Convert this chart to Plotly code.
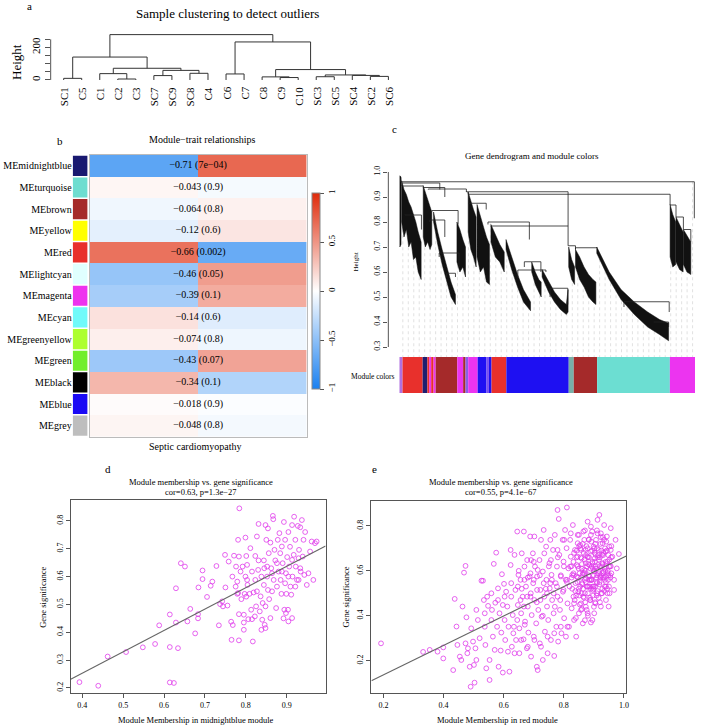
import numpy as np
import plotly.graph_objects as go

W, H = 702, 726
SERIF = "Liberation Serif"


def fx(px):
    return px / W


def fy(py):
    return 1 - py / H


# ---------------- a: sample clustering ----------------
sample_labels = ["SC1", "C5", "C1", "C2", "C3", "SC7", "SC9", "SC8", "C4", "C6",
                 "C7", "C8", "C9", "C10", "SC3", "SC5", "SC4", "SC2", "SC6"]
# (left, right, height): negative = leaf -(i+1), non-negative = earlier merge
sample_merges = [
    (-4, -5, 6), (-1, -2, 10), (-13, -14, 15), (-12, 2, 19), (-15, -16, 20),
    (-18, -19, 22), (-17, 5, 28), (4, 6, 31), (-6, -7, 27), (-10, -11, 37),
    (-3, 0, 39), (-8, -9, 41), (8, 11, 59), (3, 7, 64), (10, 12, 72),
    (1, 14, 141), (9, 13, 234), (15, 16, 279),
]
sample_ticks = [0, 50, 100, 150, 200, 250]
sample_ticktext = ["0", "", "", "", "200", ""]

# ---------------- b: module-trait relationships ----------------
modules = ["MEmidnightblue", "MEturquoise", "MEbrown", "MEyellow", "MEred",
           "MElightcyan", "MEmagenta", "MEcyan", "MEgreenyellow", "MEgreen",
           "MEblack", "MEblue", "MEgrey"]
module_colors = ["#191970", "#6EDDD0", "#A52A2A", "#FFFF00", "#E8302C", "#E0FFFF",
                 "#EE32EE", "#70FAFA", "#ADFF2F", "#72EE2C", "#000000", "#1A0AF5",
                 "#BEBEBE"]
cor_left = [-0.71, 0.043, -0.064, -0.12, 0.66, -0.46, -0.39, 0.14, 0.074, -0.43,
            0.34, 0.018, 0.048]
cor_right = [0.71, -0.043, 0.064, 0.12, -0.66, 0.46, 0.39, -0.14, -0.074, 0.43,
             -0.34, -0.018, -0.048]
cor_text = ["−0.71 (7e−04)", "−0.043 (0.9)", "−0.064 (0.8)", "−0.12 (0.6)",
            "−0.66 (0.002)", "−0.46 (0.05)", "−0.39 (0.1)", "−0.14 (0.6)",
            "−0.074 (0.8)", "−0.43 (0.07)", "−0.34 (0.1)", "−0.018 (0.9)",
            "−0.048 (0.8)"]

# ---------------- c: gene dendrogram ----------------
RED, MID, BROWN, MAG, BLUE, TURQ = "#E8302C", "#1E1E70", "#A52A2A", "#EC34F0", "#1E10F2", "#6CDED2"
# dense leaf fans: x positions (% of genes) with upper / lower heights
gd_fan_x = [
    [0.2, 0.6],
    [0.8, 1.6, 2.4, 3.2, 4.0, 4.8, 5.6, 6.4, 7.4],
    [8.1, 8.8, 9.6, 10.4, 11.0],
    [11.6, 13.0, 14.5, 16.0, 17.5, 19.0],
    [19.5, 20.5, 21.5, 22.4],
    [23.3, 24.2, 25.1, 26.0],
    [26.3, 27.4, 28.5, 29.5, 30.5],
    [31.0, 32.5, 34.0, 35.5],
    [36.1, 38.0, 40.0, 42.0, 44.4],
    [44.8, 46.0, 47.2, 48.0],
    [48.3, 50.5, 52.5, 54.5, 56.5, 57.1],
    [57.3, 58.3, 59.3],
    [59.6, 61.0, 62.5, 64.0, 65.5, 66.5],
    [66.8, 71.0, 75.0, 79.5, 84.0, 88.0, 91.1],
    [91.6, 92.5, 93.5], [93.6, 94.8, 96.0], [96.1, 97.3, 98.6],
]
gd_fan_top = [
    [0.985, 0.98],
    [0.965, 0.93, 0.91, 0.88, 0.86, 0.83, 0.80, 0.76, 0.72],
    [0.945, 0.92, 0.89, 0.86, 0.84],
    [0.84, 0.76, 0.69, 0.62, 0.56, 0.51],
    [0.80, 0.77, 0.73, 0.70],
    [0.92, 0.88, 0.85, 0.82],
    [0.87, 0.82, 0.78, 0.74, 0.71],
    [0.79, 0.75, 0.71, 0.68],
    [0.73, 0.66, 0.59, 0.53, 0.48],
    [0.64, 0.60, 0.57, 0.56],
    [0.61, 0.56, 0.52, 0.49, 0.47, 0.53],
    [0.70, 0.65, 0.62],
    [0.69, 0.66, 0.62, 0.59, 0.57, 0.56],
    [0.70, 0.60, 0.53, 0.48, 0.44, 0.41, 0.395],
    [0.87, 0.83, 0.80], [0.82, 0.79, 0.76], [0.77, 0.745, 0.72],
]
gd_fan_bot = [
    [0.70, 0.71],
    [0.80, 0.74, 0.77, 0.70, 0.72, 0.65, 0.66, 0.60, 0.57],
    [0.74, 0.70, 0.72, 0.69, 0.71],
    [0.80, 0.71, 0.63, 0.56, 0.50, 0.47],
    [0.64, 0.60, 0.62, 0.58],
    [0.76, 0.69, 0.66, 0.62],
    [0.66, 0.60, 0.62, 0.56, 0.55],
    [0.72, 0.66, 0.64, 0.60],
    [0.69, 0.61, 0.54, 0.48, 0.445],
    [0.60, 0.55, 0.52, 0.50],
    [0.58, 0.52, 0.48, 0.45, 0.43, 0.44],
    [0.62, 0.57, 0.55],
    [0.62, 0.57, 0.54, 0.50, 0.48, 0.47],
    [0.675, 0.57, 0.49, 0.43, 0.38, 0.35, 0.325],
    [0.66, 0.62, 0.63], [0.64, 0.61, 0.60], [0.63, 0.60, 0.59],
]
# merge bars: (x_left, x_right, height, left child height, right child height)
gd_merges = [
    (0.5, 99.8, 0.961, 0.975, 0.815), (0.9, 13.7, 0.956, 0.955, 0.93),
    (0.9, 8.1, 0.944, 0.95, 0.945), (8.1, 15.4, 0.938, 0.94, 0.90),
    (9.8, 22.7, 0.932, 0.93, 0.92), (22.7, 57.1, 0.921, 0.92, 0.784),
    (23.3, 91.6, 0.911, 0.92, 0.87), (23.3, 29.4, 0.875, 0.875, 0.85),
    (11.0, 19.9, 0.846, 0.84, 0.79), (1.9, 7.5, 0.828, 0.83, 0.77),
    (10.3, 15.4, 0.808, 0.80, 0.74), (30.0, 44.0, 0.80, 0.79, 0.73),
    (31.1, 57.1, 0.784, 0.78, 0.705), (57.1, 59.6, 0.705, 0.705, 0.69),
    (59.6, 66.8, 0.697, 0.69, 0.70), (76.0, 91.3, 0.481, 0.46, 0.44),
    (86.0, 91.1, 0.40, 0.40, 0.38), (13.5, 20.2, 0.676, 0.66, 0.62),
    (16.0, 19.0, 0.595, 0.58, 0.58), (42.3, 47.9, 0.641, 0.62, 0.60),
    (40.1, 49.6, 0.608, 0.58, 0.60), (51.0, 57.0, 0.535, 0.50, 0.47),
    (91.6, 93.6, 0.868, 0.87, 0.82), (93.6, 96.1, 0.82, 0.82, 0.77),
    (96.1, 98.6, 0.77, 0.77, 0.72),
]
gd_seg_start = [0, 1.1, 7.9, 9.5, 10.2, 10.8, 11.6, 12.3, 19.6, 21.6, 22.4, 23.3,
                26.5, 29.5, 30.3, 31.2, 36.2, 57.3, 59.0, 66.9, 91.5]
gd_seg_end = [1.1, 7.9, 9.5, 10.2, 10.8, 11.6, 12.3, 19.6, 21.6, 22.4, 23.3, 26.5,
              29.5, 30.3, 31.2, 36.2, 57.3, 59.0, 66.9, 91.5, 100]
gd_seg_color = ["#B070E0", RED, MID, RED, MAG, RED, MAG, BROWN, MAG, BROWN, "#8A60E8",
                MAG, BLUE, "#7A50F0", BLUE, RED, BLUE, "#78B0A8", BROWN, TURQ, MAG]
gd_ticks = [0.3, 0.4, 0.5, 0.6, 0.7, 0.8, 0.9, 1.0]

# ---------------- d: midnightblue module ----------------
d_mm = [0.393, 0.439, 0.462, 0.507, 0.548, 0.578, 0.588, 0.614, 0.614, 0.614, 0.624,
        0.629, 0.629, 0.634, 0.641, 0.651, 0.657, 0.664, 0.676, 0.683, 0.683, 0.684,
        0.694, 0.694, 0.705, 0.714, 0.718, 0.728, 0.734, 0.737, 0.742, 0.744, 0.749,
        0.750, 0.755, 0.764, 0.765, 0.768, 0.771, 0.775, 0.776, 0.779, 0.781, 0.781,
        0.783, 0.783, 0.784, 0.787, 0.789, 0.792, 0.795, 0.795, 0.795, 0.797, 0.799,
        0.799, 0.801, 0.801, 0.803, 0.804, 0.806, 0.809, 0.811, 0.813, 0.815, 0.817,
        0.819, 0.822, 0.823, 0.823, 0.825, 0.827, 0.827, 0.830, 0.831, 0.834, 0.836,
        0.838, 0.840, 0.841, 0.844, 0.845, 0.846, 0.848, 0.848, 0.850, 0.852, 0.854,
        0.854, 0.856, 0.857, 0.860, 0.860, 0.862, 0.864, 0.866, 0.867, 0.868, 0.870,
        0.872, 0.874, 0.876, 0.878, 0.880, 0.882, 0.884, 0.885, 0.887, 0.888, 0.890,
        0.892, 0.893, 0.894, 0.896, 0.898, 0.899, 0.901, 0.903, 0.904, 0.906, 0.908,
        0.909, 0.911, 0.913, 0.914, 0.917, 0.918, 0.921, 0.922, 0.925, 0.927, 0.929,
        0.930, 0.933, 0.934, 0.937, 0.939, 0.941, 0.943, 0.945, 0.949, 0.953, 0.957,
        0.961, 0.965, 0.969, 0.973,
        0.803, 0.815, 0.831, 0.844, 0.852, 0.864, 0.876, 0.888, 0.896, 0.904, 0.913,
        0.921, 0.929, 0.933, 0.913, 0.904, 0.898, 0.838, 0.848, 0.779, 0.783, 0.758,
        0.767]
d_gs = [0.221, 0.208, 0.313, 0.329, 0.346, 0.358, 0.425, 0.464, 0.347, 0.220, 0.218,
        0.435, 0.558, 0.343, 0.648, 0.636, 0.439, 0.484, 0.396, 0.465, 0.450, 0.561,
        0.622, 0.591, 0.527, 0.567, 0.582, 0.638, 0.425, 0.501, 0.511, 0.493, 0.678,
        0.561, 0.496, 0.438, 0.373, 0.426, 0.675, 0.564, 0.636, 0.538, 0.732, 0.541,
        0.465, 0.371, 0.845, 0.618, 0.519, 0.636, 0.463, 0.435, 0.409, 0.538, 0.600,
        0.740, 0.674, 0.528, 0.588, 0.570, 0.447, 0.538, 0.702, 0.481, 0.447, 0.367,
        0.543, 0.457, 0.674, 0.588, 0.493, 0.744, 0.547, 0.624, 0.789, 0.475, 0.529,
        0.600, 0.445, 0.505, 0.570, 0.630, 0.427, 0.785, 0.493, 0.732, 0.600, 0.773,
        0.552, 0.684, 0.519, 0.722, 0.451, 0.630, 0.547, 0.818, 0.806, 0.588, 0.696,
        0.658, 0.487, 0.564, 0.732, 0.618, 0.756, 0.684, 0.588, 0.538, 0.708, 0.648,
        0.450, 0.796, 0.481, 0.732, 0.612, 0.538, 0.670, 0.481, 0.760, 0.636, 0.707,
        0.564, 0.535, 0.785, 0.600, 0.678, 0.815, 0.732, 0.636, 0.588, 0.782, 0.666,
        0.696, 0.777, 0.618, 0.803, 0.672, 0.732, 0.606, 0.760, 0.570, 0.612, 0.690,
        0.726, 0.588, 0.720, 0.726,
        0.642, 0.618, 0.658, 0.658, 0.636, 0.612, 0.648, 0.618, 0.576, 0.600, 0.660,
        0.564, 0.588, 0.630, 0.451, 0.439, 0.469, 0.409, 0.415, 0.582, 0.672, 0.654,
        0.600]
d_fit = (-0.054, 0.768)  # intercept, slope of the drawn regression line

# ---------------- e: red module ----------------
e_mm = [0.192, 0.332, 0.354, 0.380, 0.399, 0.399, 0.437, 0.443, 0.432, 0.446, 0.454,
        0.459, 0.463, 0.468, 0.473, 0.473, 0.476, 0.479, 0.481, 0.487, 0.490, 0.492,
        0.498, 0.501, 0.503, 0.506, 0.509, 0.509, 0.514, 0.520, 0.526, 0.531, 0.534,
        0.537, 0.537, 0.539, 0.542, 0.545, 0.548, 0.553, 0.553, 0.559, 0.561, 0.564,
        0.567, 0.570, 0.572, 0.575, 0.578, 0.581, 0.583, 0.586, 0.590, 0.592, 0.594,
        0.597, 0.597, 0.601, 0.603, 0.605, 0.608, 0.612, 0.614, 0.616, 0.619, 0.623,
        0.623, 0.625, 0.627, 0.630, 0.632, 0.636, 0.636, 0.639, 0.641, 0.645, 0.647,
        0.649, 0.652, 0.652, 0.656, 0.658, 0.660, 0.663, 0.666, 0.667, 0.669, 0.671,
        0.674, 0.677, 0.678, 0.680, 0.682, 0.686, 0.688, 0.689, 0.691, 0.693, 0.697,
        0.698, 0.700, 0.702, 0.702, 0.704, 0.708, 0.710, 0.711, 0.713, 0.715, 0.719,
        0.720, 0.722, 0.724, 0.726, 0.730, 0.730, 0.733, 0.735, 0.737, 0.741, 0.742,
        0.744, 0.746, 0.748, 0.752, 0.753, 0.755, 0.757, 0.759, 0.761, 0.764, 0.766,
        0.768, 0.770, 0.773, 0.775, 0.777, 0.779, 0.779, 0.781, 0.783, 0.785, 0.787,
        0.790, 0.792, 0.796, 0.797, 0.799, 0.801, 0.804, 0.806, 0.807, 0.809, 0.810,
        0.812, 0.815, 0.817, 0.819, 0.821, 0.823, 0.826, 0.828, 0.830, 0.832, 0.834,
        0.837, 0.839, 0.841, 0.843, 0.846, 0.848, 0.850, 0.852, 0.854, 0.857, 0.859,
        0.861, 0.863, 0.865, 0.868, 0.870, 0.872, 0.874, 0.876, 0.879, 0.879, 0.881,
        0.883, 0.885, 0.887, 0.890, 0.892, 0.894, 0.895, 0.896, 0.899, 0.901, 0.903,
        0.905, 0.907, 0.910, 0.912, 0.914, 0.916, 0.918, 0.921, 0.923, 0.925, 0.927,
        0.929, 0.932, 0.934, 0.936, 0.938, 0.940, 0.943, 0.945, 0.947, 0.949, 0.951,
        0.956, 0.958, 0.961, 0.967, 0.972, 0.976, 0.983,
        0.846, 0.857, 0.862, 0.873, 0.884, 0.895, 0.906, 0.917, 0.928, 0.939, 0.950,
        0.887, 0.899, 0.910, 0.876, 0.865, 0.854, 0.843, 0.832, 0.821, 0.810, 0.799,
        0.788, 0.777, 0.766, 0.755, 0.744, 0.733, 0.722, 0.711, 0.700, 0.689, 0.678,
        0.667, 0.656, 0.645, 0.634, 0.658, 0.680, 0.702, 0.724, 0.746, 0.768, 0.790,
        0.812, 0.834, 0.857, 0.879, 0.901, 0.923, 0.945, 0.967, 0.956, 0.934, 0.912,
        0.890, 0.868, 0.846, 0.823, 0.801, 0.779, 0.757, 0.735, 0.713, 0.691, 0.669,
        0.647, 0.625, 0.603, 0.581, 0.559,
        0.825, 0.828, 0.833, 0.836, 0.842, 0.845, 0.849, 0.851, 0.855, 0.858, 0.860,
        0.864, 0.866, 0.869, 0.871, 0.873, 0.875, 0.877, 0.880, 0.882, 0.884, 0.886,
        0.889, 0.891, 0.893, 0.895, 0.897, 0.900, 0.902, 0.904, 0.906, 0.908, 0.910,
        0.912, 0.915, 0.917, 0.919, 0.922, 0.924, 0.926, 0.928, 0.931, 0.933, 0.935,
        0.937, 0.940, 0.942, 0.945, 0.948, 0.950, 0.953, 0.955, 0.958, 0.870, 0.880,
        0.890, 0.840, 0.860, 0.900, 0.920, 0.850, 0.870, 0.890, 0.910, 0.930, 0.800,
        0.810, 0.790, 0.780, 0.770, 0.760, 0.750, 0.740, 0.730, 0.720, 0.710, 0.700,
        0.690, 0.680, 0.670, 0.660, 0.650,
        0.832, 0.838, 0.843, 0.847, 0.853, 0.856, 0.861, 0.863, 0.867, 0.872, 0.874,
        0.878, 0.881, 0.883, 0.888, 0.891, 0.894, 0.897, 0.899, 0.903, 0.905, 0.909,
        0.911, 0.914, 0.918, 0.920, 0.923, 0.927, 0.930, 0.932, 0.936, 0.939, 0.941,
        0.944, 0.946, 0.951, 0.954, 0.957,
        0.826, 0.834, 0.841, 0.846, 0.851, 0.859, 0.864, 0.869, 0.873, 0.879, 0.884,
        0.887, 0.892, 0.896, 0.901, 0.904, 0.908, 0.913, 0.916, 0.921, 0.925, 0.929,
        0.934, 0.938, 0.943, 0.948, 0.952, 0.956, 0.860, 0.870, 0.880, 0.890, 0.900,
        0.910, 0.920, 0.930, 0.940, 0.850]
e_gs = [0.277, 0.239, 0.248, 0.240, 0.259, 0.210, 0.475, 0.352, 0.158, 0.270, 0.218,
        0.203, 0.441, 0.592, 0.622, 0.277, 0.393, 0.233, 0.255, 0.173, 0.084, 0.344,
        0.285, 0.181, 0.102, 0.255, 0.203, 0.426, 0.381, 0.300, 0.556, 0.556, 0.470,
        0.411, 0.351, 0.270, 0.166, 0.485, 0.444, 0.114, 0.203, 0.381, 0.426, 0.307,
        0.631, 0.248, 0.458, 0.681, 0.351, 0.522, 0.173, 0.411, 0.245, 0.325, 0.585,
        0.448, 0.147, 0.542, 0.381, 0.292, 0.507, 0.441, 0.240, 0.351, 0.151, 0.626,
        0.693, 0.485, 0.262, 0.403, 0.322, 0.671, 0.233, 0.515, 0.292, 0.775, 0.448,
        0.582, 0.344, 0.233, 0.560, 0.411, 0.678, 0.485, 0.295, 0.775, 0.619, 0.374,
        0.530, 0.255, 0.648, 0.441, 0.325, 0.575, 0.753, 0.485, 0.218, 0.403, 0.678,
        0.545, 0.307, 0.753, 0.470, 0.619, 0.366, 0.173, 0.575, 0.158, 0.426, 0.648,
        0.277, 0.515, 0.738, 0.396, 0.597, 0.203, 0.782, 0.485, 0.329, 0.708, 0.560,
        0.441, 0.233, 0.381, 0.634, 0.522, 0.738, 0.292, 0.582, 0.470, 0.693, 0.411,
        0.221, 0.760, 0.545, 0.351, 0.619, 0.871, 0.485, 0.285, 0.831, 0.671, 0.426,
        0.575, 0.322, 0.738, 0.507, 0.641, 0.389, 0.782, 0.560, 0.307, 0.701, 0.882,
        0.455, 0.611, 0.351, 0.530, 0.738, 0.663, 0.433, 0.582, 0.804, 0.485, 0.381,
        0.693, 0.545, 0.307, 0.626, 0.760, 0.507, 0.411, 0.589, 0.715, 0.455, 0.656,
        0.545, 0.366, 0.775, 0.604, 0.500, 0.693, 0.567, 0.426, 0.819, 0.663, 0.530,
        0.738, 0.626, 0.470, 0.686, 0.560, 0.775, 0.381, 0.515, 0.708, 0.597, 0.656,
        0.455, 0.738, 0.545, 0.827, 0.626, 0.693, 0.849, 0.575, 0.767, 0.500, 0.671,
        0.723, 0.597, 0.804, 0.530, 0.686, 0.470, 0.753, 0.641, 0.560, 0.441, 0.708,
        0.790, 0.589, 0.663, 0.515, 0.738, 0.611, 0.675,
        0.663, 0.693, 0.582, 0.634, 0.575, 0.634, 0.671, 0.589, 0.634, 0.575, 0.619,
        0.560, 0.530, 0.500, 0.530, 0.485, 0.530, 0.575, 0.589, 0.619, 0.560, 0.515,
        0.470, 0.530, 0.500, 0.545, 0.500, 0.545, 0.470, 0.515, 0.560, 0.589, 0.485,
        0.441, 0.470, 0.381, 0.351, 0.292, 0.262, 0.292, 0.262, 0.307, 0.322, 0.351,
        0.351, 0.455, 0.426, 0.411, 0.411, 0.441, 0.500, 0.560, 0.693, 0.738, 0.767,
        0.797, 0.738, 0.723, 0.767, 0.738, 0.693, 0.648, 0.678, 0.604, 0.648, 0.560,
        0.530, 0.545, 0.485, 0.470, 0.500,
        0.62, 0.52, 0.58, 0.47, 0.66, 0.55, 0.61, 0.49, 0.70, 0.57, 0.63,
        0.52, 0.68, 0.59, 0.46, 0.55, 0.71, 0.62, 0.50, 0.58, 0.66, 0.53,
        0.61, 0.73, 0.56, 0.64, 0.49, 0.58, 0.68, 0.53, 0.62, 0.57, 0.70,
        0.51, 0.60, 0.65, 0.55, 0.72, 0.58, 0.62, 0.52, 0.67, 0.57, 0.61,
        0.70, 0.55, 0.63, 0.59, 0.67, 0.53, 0.62, 0.57, 0.71, 0.38, 0.40,
        0.37, 0.39, 0.43, 0.44, 0.46, 0.76, 0.78, 0.76, 0.78, 0.75, 0.62,
        0.55, 0.58, 0.66, 0.44, 0.56, 0.62, 0.52, 0.40, 0.58, 0.46, 0.64,
        0.50, 0.57, 0.36, 0.52, 0.60,
        0.64, 0.51, 0.69, 0.57, 0.45, 0.66, 0.54, 0.72, 0.48, 0.60, 0.67,
        0.53, 0.63, 0.74, 0.47, 0.56, 0.69, 0.61, 0.52, 0.64, 0.72, 0.49,
        0.58, 0.67, 0.54, 0.62, 0.75, 0.50, 0.59, 0.68, 0.56, 0.64, 0.73,
        0.52, 0.60, 0.65, 0.58, 0.66,
        0.57, 0.68, 0.49, 0.62, 0.71, 0.50, 0.59, 0.65, 0.44, 0.70, 0.56,
        0.48, 0.62, 0.53, 0.70, 0.46, 0.61, 0.66, 0.48, 0.57, 0.69, 0.63,
        0.51, 0.60, 0.69, 0.58, 0.50, 0.62, 0.61, 0.56, 0.66, 0.52, 0.60,
        0.55, 0.66, 0.57, 0.53, 0.52]
e_fit = (0.006, 0.655)

# ======================= build figure =======================
fig = go.Figure()
annotations = []
shapes = []


def add_text(px, py, text, size, xanchor="center", yanchor="middle", angle=0):
    annotations.append(dict(x=fx(px), y=fy(py), xref="paper", yref="paper",
                            text=text, showarrow=False, textangle=angle,
                            xanchor=xanchor, yanchor=yanchor,
                            font=dict(family=SERIF, size=size, color="black")))


LINE_GREY = "#555555"

# ---- panel a ----
node_x, node_h = [], []
sx, sy = [], []


def child(c):
    if c < 0:
        return (-c - 1, 0.0)
    return (node_x[c], node_h[c])


for l, r, h in sample_merges:
    xl, hl = child(l)
    xr, hr = child(r)
    sx += [xl, xl, xr, xr, None]
    sy += [hl, h, h, hr, None]
    node_x.append((xl + xr) / 2)
    node_h.append(h)

fig.add_trace(go.Scatter(x=sx, y=sy, mode="lines", line=dict(color="#333333", width=1),
                         xaxis="x", yaxis="y", hoverinfo="skip"))
for i, lab in enumerate(sample_labels):
    annotations.append(dict(x=i, y=fy(85), xref="x", yref="paper", text=lab,
                            showarrow=False, textangle=-90, xanchor="center",
                            yanchor="top", font=dict(family=SERIF, size=11, color="black")))
shapes.append(dict(type="line", xref="paper", yref="y", x0=fx(50.9), x1=fx(50.9),
                   y0=0, y1=250, line=dict(color=LINE_GREY, width=1)))
add_text(228, 14, "Sample clustering to detect outliers", 13)
add_text(17, 62, "Height", 13, angle=-90)
add_text(30, 6, "a", 11)

# ---- panel b ----
fig.add_trace(go.Bar(y=list(range(len(modules))), x=[1] * len(modules), base=0,
                     orientation="h", marker=dict(color=module_colors, line=dict(width=0)),
                     width=0.93, xaxis="x2", yaxis="y2", hoverinfo="skip"))
zmat = [[a, b] for a, b in zip(cor_left, cor_right)]
fig.add_trace(go.Heatmap(z=zmat, x=[0, 1], y=list(range(len(modules))), zmin=-1, zmax=1,
                         colorscale=[[0, "#1A80F0"], [0.5, "#FFFFFF"], [1, "#DF2A0A"]],
                         xaxis="x3", yaxis="y3", hoverinfo="skip",
                         colorbar=dict(x=fx(313), xanchor="left", y=fy(291), yanchor="middle",
                                       len=196 / H, lenmode="fraction", thickness=8,
                                       outlinewidth=1, outlinecolor="#888888",
                                       ticks="outside", ticklen=4, tickcolor=LINE_GREY,
                                       tickvals=[-1, -0.5, 0, 0.5, 1],
                                       ticktext=["−1", "−0.5", "0", "0.5", "1"],
                                       tickangle=-90, xpad=0, ypad=0,
                                       tickfont=dict(family=SERIF, size=9, color="black"))))
fig.add_trace(go.Scatter(x=[0.5] * len(modules), y=list(range(len(modules))), mode="text",
                         text=cor_text, textfont=dict(family=SERIF, size=10, color="black"),
                         xaxis="x3", yaxis="y3", hoverinfo="skip"))
add_text(203, 140, "Module−trait relationships", 10)
add_text(196, 446, "Septic cardiomyopathy", 10)
add_text(60, 141, "b", 11)

# ---- panel c ----
fx_all, fy_all = [], []
for xs, tops, bots in zip(gd_fan_x, gd_fan_top, gd_fan_bot):
    fx_all += list(xs) + list(xs[::-1]) + [xs[0], None]
    fy_all += list(tops) + list(bots[::-1]) + [tops[0], None]

# faint leaf guide lines reaching up to the lowest branch above them
guide_x = np.linspace(1.2, 99.2, 54)
gx, gy = [], []
for g in guide_x:
    top = None
    for xs, bots in zip(gd_fan_x, gd_fan_bot):
        if xs[0] <= g <= xs[-1]:
            b = float(np.interp(g, xs, bots))
            top = b if top is None else min(top, b)
    if top is None:
        hs = [m[2] for m in gd_merges if m[0] <= g <= m[1]]
        top = min(hs) if hs else 0.9
    gx += [g, g, None]
    gy += [0.255, top, None]
fig.add_trace(go.Scatter(x=gx, y=gy, mode="lines",
                         line=dict(color="#D4D4D4", width=0.7, dash="dot"),
                         xaxis="x4", yaxis="y4", hoverinfo="skip"))
fig.add_trace(go.Scatter(x=fx_all, y=fy_all, mode="lines", fill="toself",
                         fillcolor="#111111", line=dict(color="#111111", width=0.5),
                         xaxis="x4", yaxis="y4", hoverinfo="skip"))
mx, my = [], []
for x1, x2, h, h1, h2 in gd_merges:
    mx += [x1, x1, x2, x2, None]
    my += [h1, h, h, h2, None]
fig.add_trace(go.Scatter(x=mx, y=my, mode="lines", line=dict(color="#222222", width=0.8),
                         xaxis="x4", yaxis="y4", hoverinfo="skip"))
shapes.append(dict(type="line", xref="paper", yref="y4", x0=fx(390), x1=fx(390),
                   y0=0.3, y1=1.0, line=dict(color=LINE_GREY, width=1)))
fig.add_trace(go.Bar(y=[0] * len(gd_seg_start),
                     x=[e - s for s, e in zip(gd_seg_start, gd_seg_end)],
                     base=gd_seg_start, orientation="h", width=1,
                     marker=dict(color=gd_seg_color, line=dict(width=0)),
                     xaxis="x5", yaxis="y5", hoverinfo="skip"))
add_text(534, 156, "Gene dendrogram and module colors", 9)
add_text(358, 262, "Height", 7, angle=-90)
add_text(399, 376, "Module colors", 7.5, xanchor="right")
add_text(396, 129, "c", 11)


# ---- panels d, e ----
def scatter_panel(xa, ya, mm, gs):
    fig.add_trace(go.Scatter(x=mm, y=gs, mode="markers",
                             marker=dict(symbol="circle-open", size=4.8, color="#E03CEB",
                                         line=dict(width=0.8)),
                             xaxis=xa, yaxis=ya, hoverinfo="skip"))


scatter_panel("x6", "y6", d_mm, d_gs)
scatter_panel("x7", "y7", e_mm, e_gs)

d_xr = [0.3716, 0.995]
e_xr = [0.16, 1.0077]
fig.add_trace(go.Scatter(x=d_xr, y=[d_fit[0] + d_fit[1] * v for v in d_xr], mode="lines",
                         line=dict(color="#666666", width=1.1), xaxis="x6", yaxis="y6",
                         hoverinfo="skip"))
fig.add_trace(go.Scatter(x=e_xr, y=[e_fit[0] + e_fit[1] * v for v in e_xr], mode="lines",
                         line=dict(color="#666666", width=1.1), xaxis="x7", yaxis="y7",
                         hoverinfo="skip"))

add_text(108, 469, "d", 11)
add_text(202, 482, "Module membership vs. gene significance", 8.5)
add_text(202, 492, "cor=0.63, p=1.3e−27", 8.5)
add_text(197, 720, "Module Membership in midnightblue module", 8.5)
add_text(43, 597, "Gene significance", 8.5, angle=-90)
add_text(376, 469, "e", 11)
add_text(503, 482, "Module membership vs. gene significance", 8.5)
add_text(503, 492, "cor=0.55, p=4.1e−67", 8.5)
add_text(500, 720, "Module Membership in red module", 8.5)
add_text(347, 597, "Gene significance", 8.5, angle=-90)

hidden = dict(visible=False, showgrid=False, zeroline=False)
tickfont8 = dict(family=SERIF, size=8, color="black")

box_axis = dict(showline=True, mirror=True, linecolor=LINE_GREY, linewidth=1,
                ticks="outside", ticklen=4, tickcolor=LINE_GREY, showgrid=False,
                zeroline=False, tickfont=tickfont8)

fig.update_layout(
    width=W, height=H, margin=dict(l=0, r=0, t=0, b=0),
    paper_bgcolor="white", plot_bgcolor="rgba(0,0,0,0)", showlegend=False,
    annotations=annotations, shapes=shapes,
    # a
    xaxis=dict(domain=[fx(50.9), fx(403.1)], range=[-0.72, 18.72], **hidden),
    yaxis=dict(domain=[fy(81.8), fy(32.8)], range=[-11.2, 290.2], showgrid=False,
               zeroline=False, showline=False, ticks="outside", ticklen=5,
               tickcolor=LINE_GREY, tickvals=sample_ticks, ticktext=sample_ticktext,
               tickangle=-90, tickfont=dict(family=SERIF, size=11, color="black"),
               anchor="x"),
    # b strip
    xaxis2=dict(domain=[fx(73), fx(88)], range=[0, 1], **hidden),
    yaxis2=dict(domain=[fy(436.5), fy(155)], range=[12.5, -0.5], anchor="x2",
                tickvals=list(range(len(modules))), ticktext=modules, ticks="",
                showgrid=False, zeroline=False, showline=False,
                tickfont=dict(family=SERIF, size=10, color="black")),
    # b heatmap
    xaxis3=dict(domain=[fx(90), fx(308)], range=[-0.5, 1.5], showticklabels=False,
                ticks="", showgrid=False, zeroline=False, showline=True, mirror=True,
                linecolor="#BBBBBB", linewidth=1, anchor="y3"),
    yaxis3=dict(domain=[fy(436.5), fy(155)], range=[12.5, -0.5], showticklabels=False,
                ticks="", showgrid=False, zeroline=False, showline=True, mirror=True,
                linecolor="#BBBBBB", linewidth=1, anchor="x3"),
    # c dendrogram
    xaxis4=dict(domain=[fx(390), fx(700)], range=[-3.7, 100.7], anchor="y4", **hidden),
    yaxis4=dict(domain=[fy(357), fy(165)], range=[0.26, 1.028], anchor="x4",
                showgrid=False, zeroline=False, showline=False, ticks="outside",
                ticklen=4, tickcolor=LINE_GREY, tickvals=gd_ticks,
                ticktext=[f"{v:.1f}" for v in gd_ticks], tickangle=-90,
                tickfont=tickfont8),
    # c module bar
    xaxis5=dict(domain=[fx(401), fx(698)], range=[0, 100], anchor="y5", **hidden),
    yaxis5=dict(domain=[fy(393), fy(357)], range=[-0.5, 0.5], anchor="x5", **hidden),
    # d
    xaxis6=dict(domain=[fx(71), fx(327)], range=d_xr, anchor="y6",
                tickvals=[0.4, 0.5, 0.6, 0.7, 0.8, 0.9], **box_axis),
    yaxis6=dict(domain=[fy(693), fy(500)], range=[0.182, 0.875], anchor="x6",
                tickvals=[0.2, 0.3, 0.4, 0.5, 0.6, 0.7, 0.8], tickangle=-90, **box_axis),
    # e
    xaxis7=dict(domain=[fx(373), fx(629)], range=e_xr, anchor="y7",
                tickvals=[0.2, 0.4, 0.6, 0.8, 1.0],
                ticktext=["0.2", "0.4", "0.6", "0.8", "1.0"], **box_axis),
    yaxis7=dict(domain=[fy(693), fy(501)], range=[0.056, 0.911], anchor="x7",
                tickvals=[0.2, 0.4, 0.6, 0.8], tickangle=-90, **box_axis),
)

fig.write_html("out.html")
